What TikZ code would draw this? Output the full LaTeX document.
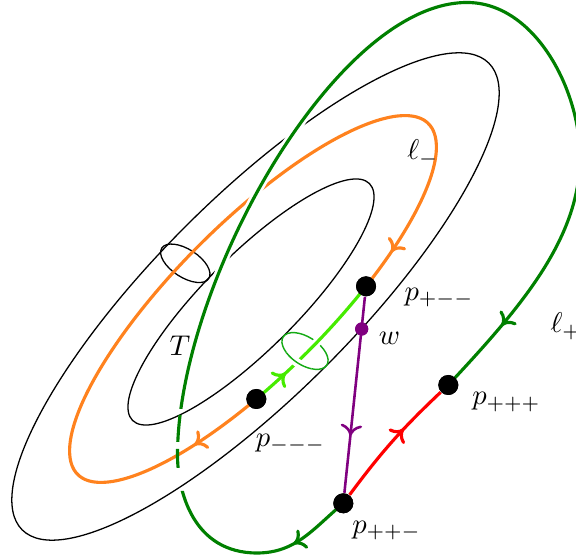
\documentclass[tikz,border=0pt]{standalone}
\usetikzlibrary{decorations.markings,arrows.meta}
\definecolor{lorange}{RGB}{255,130,30}
\definecolor{lgreen}{RGB}{0,128,0}
\definecolor{coregreen}{RGB}{70,235,0}
\definecolor{merigreen}{RGB}{20,170,20}
\definecolor{lpurple}{RGB}{128,0,128}
\definecolor{lred}{RGB}{255,0,0}
\tikzset{
  myto/.tip={To[length=4pt,width=7.5pt]},
  torusline/.style={black,line width=0.45pt},
  thickline/.style={line width=1.1pt},
  markarrow/.style={postaction={decorate,decoration={markings,mark=at position #1 with {\arrow{myto}}}}},
  dot/.style={circle,fill=black,inner sep=0pt,minimum size=7pt},
  wdot/.style={circle,fill=lpurple,inner sep=0pt,minimum size=4.6pt},
  lbl/.style={inner sep=0pt,anchor=base west},
}
\newcommand\greencurve{(ppm.center) .. controls (313.4,-528.4) and (296,-553) .. (257,-553)
  .. controls (193,-553) and (177.5,-491) .. (177.5,-455)
  .. controls (177.5,-285) and (335,-2.5) .. (467,-2.5)
  .. controls (534.6,-2.5) and (580,-89.4) .. (580,-157)
  .. controls (580,-240) and (518.5,-309.7) .. (ppp.center)}
\begin{document}
\begin{tikzpicture}[x=0.35pt,y=0.35pt]
\useasboundingbox (0,0) rectangle (576,-558);
% points
\begin{scope}[shift={(253,-299)},rotate=45]
  \node[dot] (pmp) at (-69:248 and 76) {};
  \node[dot] (pmm) at (-106:248 and 76) {};
\end{scope}
\node[dot] (ppp) at (448.3,-385) {};
\node[dot] (ppm) at (343.3,-503.3) {};
\node[wdot] (w) at (361.7,-329) {};
% torus
\draw[torusline,rotate around={45:(255.5,-296.5)}] (255.5,-296.5) ellipse [x radius=330, y radius=99];
\draw[torusline,rotate around={45:(251,-302)}] (251,-302) ellipse [x radius=167.5, y radius=47];
\draw[torusline,rotate around={-33:(185.3,-263.3)}] (185.3,-263.3) ellipse [x radius=28, y radius=14];
% orange loop and core
\begin{scope}[shift={(253,-299)},rotate=45]
  \draw[lorange,thickline,markarrow=27pt,markarrow=-15pt]
    (pmm.center) arc[start angle=254, end angle=-69, x radius=248, y radius=76];
\end{scope}
\draw[merigreen,line width=0.5pt,rotate around={-33:(305,-351)}] (305,-351) ellipse [x radius=26, y radius=14];
\begin{scope}[shift={(253,-299)},rotate=45]
  \draw[coregreen,thickline,preaction={draw=white,line width=3pt},markarrow=13.7pt]
    (pmm.center) arc[start angle=-106, end angle=-69, x radius=248, y radius=76];
\end{scope}
\begin{scope}[shift={(305,-351)},rotate=-33]
  \draw[merigreen,line width=0.5pt,preaction={draw=white,line width=3pt}]
    (235:26 and 14) arc[start angle=235, end angle=305, x radius=26, y radius=14];
\end{scope}
% halo for front part of l+
\begin{scope}
  \clip (0,-395) rectangle (576,10);
  \draw[white,line width=3pt] \greencurve;
\end{scope}
% l+ : solid in front, broken where it runs behind the torus
\begin{scope}
  \clip (-10,10) rectangle (600,-409) (-10,-415) rectangle (600,-442)
        (-10,-449) rectangle (600,-468) (-10,-491) rectangle (600,-570);
  \draw[lgreen,thickline,markarrow=22.5pt,markarrow=-28pt] \greencurve;
\end{scope}
% red and purple
\draw[lred,thickline,markarrow=0.62] (ppm) to[bend left=5] (ppp);
\draw[lpurple,line width=0.9pt,markarrow=0.71] (pmp) -- (ppm);
% dots on top
\node[dot] at (pmp) {};
\node[dot] at (pmm) {};
\node[dot] at (ppp) {};
\node[dot] at (ppm) {};
\node[wdot] at (w) {};
% labels
\node[lbl] (lm) at (406.7,-160) {$\ell_-$};
\node[lbl] (lp) at (550,-333) {$\ell_+$};
\node[lbl] (Tl) at (169,-356) {$T$};
\node[lbl] (wl) at (378.4,-345) {$w$};
\node[lbl] (l1) at (404,-300.7) {$p_{+--}$};
\node[lbl] (l2) at (255.3,-446.6) {$p_{---}$};
\node[lbl] (l3) at (471.7,-405) {$p_{+++}$};
\node[lbl] (l4) at (351.7,-533.3) {$p_{++-}$};
\end{tikzpicture}
\end{document}
